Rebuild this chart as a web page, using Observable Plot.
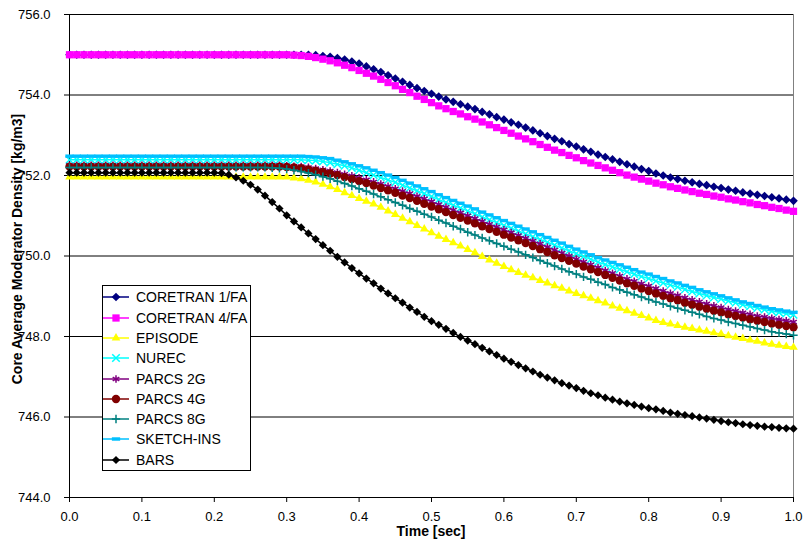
<!DOCTYPE html>
<html><head><meta charset="utf-8">
<script src="https://cdn.jsdelivr.net/npm/d3@7"></script>
<script src="https://cdn.jsdelivr.net/npm/@observablehq/plot@0.6"></script>
<style>
body{margin:0;background:#fff;}
#wrap{position:relative;width:803px;height:544px;font-family:"Liberation Sans",Arial,sans-serif;color:#000;}
#wrap svg{position:absolute;left:0;top:0;}
.ytitle{position:absolute;left:17px;top:249px;transform:translate(-50%,-50%) rotate(-90deg);white-space:nowrap;font-weight:bold;font-size:14px;line-height:16px;}
.xtitle{position:absolute;left:431px;top:523px;transform:translateX(-50%);white-space:nowrap;font-weight:bold;font-size:14px;line-height:16px;}
.legend{position:absolute;left:102px;top:285px;width:149px;height:186px;box-sizing:border-box;border:1px solid #000;background:#fff;}
.legend .row{position:absolute;left:0;height:20px;width:147px;}
.legend .row svg{position:absolute;left:4px;top:0;}
.legend .row span{position:absolute;left:33px;top:0;line-height:20px;font-size:14px;white-space:nowrap;}
</style></head><body><div id="wrap"></div>
<script>
const times=[0,0.01,0.02,0.03,0.04,0.05,0.06,0.07,0.08,0.09,
0.10,0.11,0.12,0.13,0.14,0.15,0.16,0.17,0.18,0.19,
0.20,0.21,0.22,0.23,0.24,0.25,0.26,0.27,0.28,0.29,
0.30,0.31,0.32,0.33,0.34,0.35,0.36,0.37,0.38,0.39,
0.40,0.41,0.42,0.43,0.44,0.45,0.46,0.47,0.48,0.49,
0.50,0.51,0.52,0.53,0.54,0.55,0.56,0.57,0.58,0.59,
0.60,0.61,0.62,0.63,0.64,0.65,0.66,0.67,0.68,0.69,
0.70,0.71,0.72,0.73,0.74,0.75,0.76,0.77,0.78,0.79,
0.80,0.81,0.82,0.83,0.84,0.85,0.86,0.87,0.88,0.89,
0.90,0.91,0.92,0.93,0.94,0.95,0.96,0.97,0.98,0.99,
1.00];

const coretran1=[755,755,755,755,755,755,755,755,755,755,
755,755,755,755,755,755,755,755,755,755,
755,755,755,755,755,755,755,755,755,755,
755,755,755,755,754.99,754.97,754.95,754.92,754.88,754.83,
754.78,754.71,754.64,754.57,754.49,754.41,754.33,754.25,754.17,754.10,
754.03,753.96,753.89,753.83,753.77,753.71,753.65,753.58,753.52,753.45,
753.39,753.32,753.26,753.19,753.12,753.05,752.98,752.91,752.85,752.78,
752.72,752.65,752.59,752.52,752.46,752.40,752.34,752.28,752.22,752.16,
752.11,752.05,752.00,751.95,751.91,751.87,751.83,751.79,751.76,751.72,
751.69,751.65,751.62,751.58,751.55,751.52,751.49,751.46,751.43,751.40,
751.37];

const coretran4=[755,755,755,755,755,755,755,755,755,755,
755,755,755,755,755,755,755,755,755,755,
755,755,755,755,755,755,755,755,755,755,
755,754.99,754.98,754.96,754.93,754.89,754.85,754.80,754.74,754.68,
754.61,754.54,754.47,754.39,754.31,754.23,754.14,754.06,753.97,753.89,
753.81,753.73,753.66,753.59,753.53,753.46,753.40,753.33,753.26,753.19,
753.12,753.05,752.98,752.91,752.84,752.77,752.70,752.63,752.57,752.50,
752.44,752.37,752.31,752.25,752.19,752.13,752.07,752.01,751.96,751.91,
751.86,751.81,751.77,751.72,751.68,751.64,751.60,751.56,751.53,751.49,
751.46,751.42,751.39,751.35,751.32,751.28,751.25,751.21,751.18,751.14,
751.11];

const episode=[751.96,751.96,751.96,751.96,751.96,751.96,751.96,751.96,751.96,751.96,
751.96,751.96,751.96,751.96,751.96,751.96,751.96,751.96,751.96,751.96,
751.96,751.96,751.96,751.96,751.96,751.96,751.96,751.96,751.96,751.96,
751.96,751.94,751.92,751.88,751.84,751.78,751.72,751.65,751.57,751.50,
751.43,751.36,751.29,751.21,751.12,751.03,750.94,750.85,750.76,750.67,
750.58,750.49,750.41,750.33,750.25,750.16,750.08,749.99,749.90,749.82,
749.74,749.66,749.59,749.52,749.46,749.39,749.33,749.26,749.20,749.13,
749.07,749.01,748.95,748.89,748.83,748.76,748.70,748.64,748.58,748.52,
748.46,748.40,748.35,748.31,748.27,748.23,748.20,748.16,748.13,748.09,
748.06,748.02,747.98,747.95,747.91,747.88,747.84,747.81,747.78,747.75,
747.73];

const nurec=[752.39,752.39,752.39,752.39,752.39,752.39,752.39,752.39,752.39,752.39,
752.39,752.39,752.39,752.39,752.39,752.39,752.39,752.39,752.39,752.39,
752.39,752.39,752.39,752.39,752.39,752.39,752.39,752.39,752.39,752.39,
752.39,752.39,752.39,752.38,752.37,752.35,752.32,752.28,752.24,752.19,
752.13,752.07,752.01,751.95,751.89,751.83,751.76,751.69,751.62,751.55,
751.48,751.40,751.33,751.26,751.19,751.12,751.05,750.97,750.90,750.83,
750.76,750.69,750.62,750.55,750.48,750.41,750.34,750.27,750.20,750.13,
750.06,749.99,749.92,749.85,749.79,749.73,749.67,749.61,749.55,749.49,
749.44,749.38,749.33,749.28,749.23,749.17,749.12,749.07,749.02,748.97,
748.93,748.88,748.84,748.79,748.75,748.71,748.67,748.63,748.60,748.57,
748.54];

const parcs2g=[752.25,752.25,752.25,752.25,752.25,752.25,752.25,752.25,752.25,752.25,
752.25,752.25,752.25,752.25,752.25,752.25,752.25,752.25,752.25,752.25,
752.25,752.25,752.25,752.25,752.25,752.25,752.25,752.25,752.25,752.25,
752.24,752.23,752.22,752.20,752.17,752.14,752.11,752.07,752.03,751.99,
751.94,751.89,751.84,751.79,751.73,751.67,751.61,751.55,751.48,751.42,
751.35,751.28,751.21,751.14,751.07,751.00,750.93,750.86,750.79,750.72,
750.65,750.58,750.51,750.44,750.37,750.30,750.22,750.15,750.07,750.00,
749.92,749.85,749.78,749.71,749.64,749.57,749.50,749.43,749.37,749.31,
749.25,749.19,749.13,749.07,749.02,748.96,748.91,748.86,748.81,748.76,
748.72,748.67,748.63,748.59,748.55,748.51,748.48,748.45,748.42,748.39,
748.36];

const parcs4g=[752.22,752.22,752.22,752.22,752.22,752.22,752.22,752.22,752.22,752.22,
752.22,752.22,752.22,752.22,752.22,752.22,752.22,752.22,752.22,752.22,
752.22,752.22,752.22,752.22,752.22,752.22,752.22,752.22,752.22,752.22,
752.21,752.20,752.18,752.15,752.12,752.09,752.05,752.01,751.96,751.91,
751.86,751.81,751.75,751.69,751.63,751.57,751.50,751.44,751.37,751.30,
751.23,751.16,751.09,751.02,750.95,750.88,750.81,750.74,750.67,750.60,
750.53,750.46,750.39,750.32,750.25,750.17,750.10,750.02,749.95,749.88,
749.81,749.74,749.67,749.60,749.53,749.46,749.39,749.32,749.26,749.19,
749.13,749.07,749.01,748.95,748.90,748.84,748.79,748.74,748.69,748.64,
748.60,748.55,748.51,748.47,748.43,748.39,748.36,748.32,748.29,748.26,
748.23];

const parcs8g=[752.20,752.20,752.20,752.20,752.20,752.20,752.20,752.20,752.20,752.20,
752.20,752.20,752.20,752.20,752.20,752.20,752.20,752.20,752.20,752.20,
752.20,752.20,752.20,752.20,752.20,752.20,752.20,752.20,752.19,752.18,
752.16,752.13,752.10,752.06,752.02,751.97,751.92,751.86,751.80,751.74,
751.67,751.61,751.54,751.47,751.40,751.33,751.26,751.18,751.11,751.04,
750.97,750.89,750.82,750.74,750.67,750.59,750.52,750.45,750.38,750.31,
750.24,750.17,750.10,750.03,749.96,749.89,749.82,749.75,749.68,749.61,
749.55,749.48,749.42,749.35,749.29,749.22,749.16,749.10,749.04,748.98,
748.92,748.86,748.81,748.75,748.70,748.65,748.60,748.55,748.50,748.45,
748.41,748.36,748.32,748.28,748.24,748.20,748.16,748.12,748.09,748.06,
748.03];

const sketchIns=[752.48,752.48,752.48,752.48,752.48,752.48,752.48,752.48,752.48,752.48,
752.48,752.48,752.48,752.48,752.48,752.48,752.48,752.48,752.48,752.48,
752.48,752.48,752.48,752.48,752.48,752.48,752.48,752.48,752.48,752.48,
752.48,752.48,752.48,752.47,752.46,752.44,752.42,752.38,752.34,752.29,
752.24,752.19,752.13,752.07,752.01,751.95,751.88,751.81,751.74,751.67,
751.60,751.52,751.45,751.38,751.31,751.24,751.17,751.09,751.02,750.95,
750.88,750.81,750.74,750.67,750.60,750.53,750.46,750.39,750.32,750.24,
750.17,750.10,750.03,749.96,749.90,749.84,749.78,749.72,749.66,749.60,
749.55,749.49,749.44,749.38,749.33,749.27,749.22,749.16,749.11,749.06,
749.01,748.96,748.91,748.86,748.82,748.77,748.73,748.69,748.66,748.63,
748.60];

const bars=[752.07,752.07,752.07,752.07,752.07,752.07,752.07,752.07,752.07,752.07,
752.07,752.07,752.07,752.07,752.07,752.07,752.07,752.07,752.07,752.07,
752.07,752.06,752.02,751.95,751.87,751.77,751.65,751.50,751.34,751.18,
751.01,750.86,750.71,750.56,750.42,750.27,750.13,749.98,749.84,749.70,
749.57,749.44,749.32,749.19,749.07,748.95,748.84,748.72,748.61,748.49,
748.38,748.29,748.19,748.09,747.99,747.90,747.81,747.72,747.63,747.54,
747.45,747.37,747.29,747.21,747.13,747.05,746.98,746.91,746.84,746.78,
746.72,746.65,746.59,746.54,746.48,746.43,746.38,746.34,746.30,746.26,
746.22,746.19,746.15,746.11,746.08,746.05,746.02,745.99,745.96,745.93,
745.90,745.87,745.85,745.82,745.80,745.78,745.76,745.75,745.73,745.72,
745.71];

const seriesNames=["CORETRAN 1/FA","CORETRAN 4/FA","EPISODE","NUREC","PARCS 2G","PARCS 4G","PARCS 8G","SKETCH-INS","BARS"];
const seriesValues=[coretran1,coretran4,episode,nurec,parcs2g,parcs4g,parcs8g,sketchIns,bars];
const xTicks=[0,0.1,0.2,0.3,0.4,0.5,0.6,0.7,0.8,0.9,1.0];
const yTicks=[744,746,748,750,752,754,756];
const xTitle="Time [sec]";
const yTitle="Core Average Moderator Density [kg/m3]";

// styling (kept separate from data)
const seriesColors=["#000080","#FF00FF","#FFFF00","#00FFFF","#800080","#800000","#008080","#00C0FF","#000000"];
const dash={draw(ctx,size){const s=Math.sqrt(size);const w=s*1.2,h=s*0.5;ctx.moveTo(-w/2,-h/2);ctx.lineTo(w/2,-h/2);ctx.lineTo(w/2,h/2);ctx.lineTo(-w/2,h/2);ctx.closePath();}};
const markerStyles=[
  {symbol:"diamond2",d3s:d3.symbolDiamond2,filled:true,r:3.9},
  {symbol:"square",d3s:d3.symbolSquare,filled:true,r:4.1},
  {symbol:"triangle",d3s:d3.symbolTriangle,filled:true,r:3.2},
  {symbol:"times",d3s:d3.symbolTimes,filled:false,r:3.5},
  {symbol:"asterisk",d3s:d3.symbolAsterisk,filled:false,r:3.6},
  {symbol:"circle",d3s:d3.symbolCircle,filled:true,r:4.2},
  {symbol:"plus",d3s:d3.symbolPlus,filled:false,r:2.8},
  {symbol:dash,d3s:dash,filled:true,r:3.9},
  {symbol:"diamond2",d3s:d3.symbolDiamond2,filled:true,r:3.7}
];

const marks=[
  Plot.ruleY(yTicks,{stroke:"#000",strokeWidth:1}),
  Plot.ruleX([xTicks[xTicks.length-1]],{stroke:"#808080",strokeWidth:1}),
  Plot.ruleX([xTicks[0]],{stroke:"#000",strokeWidth:1})
];
seriesValues.forEach((vals,k)=>{
  const data=times.map((t,i)=>({t,v:vals[i]}));
  const st=markerStyles[k], col=seriesColors[k];
  marks.push(Plot.line(data,{x:"t",y:"v",stroke:col,strokeWidth:1.5}));
  marks.push(Plot.dot(data,{x:"t",y:"v",symbol:st.symbol,r:st.r,
    fill:st.filled?col:"none",stroke:st.filled?"none":col,strokeWidth:st.filled?0:1.5}));
});

const chart=Plot.plot({
  width:803,height:544,
  marginLeft:69,marginRight:10,marginTop:14,marginBottom:47,
  style:{background:"#fff",color:"#000",fontFamily:"'Liberation Sans Narrow','Liberation Sans',Arial,sans-serif",fontSize:"13px",overflow:"visible"},
  x:{domain:[xTicks[0],xTicks[xTicks.length-1]],ticks:xTicks,tickFormat:d3.format(".1f"),tickSize:5,tickPadding:9,label:null},
  y:{domain:[yTicks[0],yTicks[yTicks.length-1]],ticks:yTicks,tickFormat:d3.format(".1f"),tickSize:5,tickPadding:14,label:null},
  marks
});
const wrap=document.getElementById("wrap");
wrap.appendChild(chart);

const yt=document.createElement("div");yt.className="ytitle";yt.textContent=yTitle;wrap.appendChild(yt);
const xt=document.createElement("div");xt.className="xtitle";xt.textContent=xTitle;wrap.appendChild(xt);

const leg=document.createElement("div");leg.className="legend";wrap.appendChild(leg);
seriesNames.forEach((name,k)=>{
  const row=document.createElement("div");row.className="row";row.style.top=(1.3+20.3*k)+"px";
  const st=markerStyles[k], col=seriesColors[k];
  const svg=d3.create("svg").attr("width",28).attr("height",20);
  svg.append("line").attr("x1",0).attr("x2",26).attr("y1",10).attr("y2",10).attr("stroke",col).attr("stroke-width",1.5);
  svg.append("path").attr("transform","translate(13,10)")
    .attr("d",d3.symbol(st.d3s,Math.PI*st.r*st.r)())
    .attr("fill",st.filled?col:"none").attr("stroke",st.filled?"none":col).attr("stroke-width",st.filled?0:1.5);
  row.appendChild(svg.node());
  const sp=document.createElement("span");sp.textContent=name;row.appendChild(sp);
  leg.appendChild(row);
});
</script></body></html>
